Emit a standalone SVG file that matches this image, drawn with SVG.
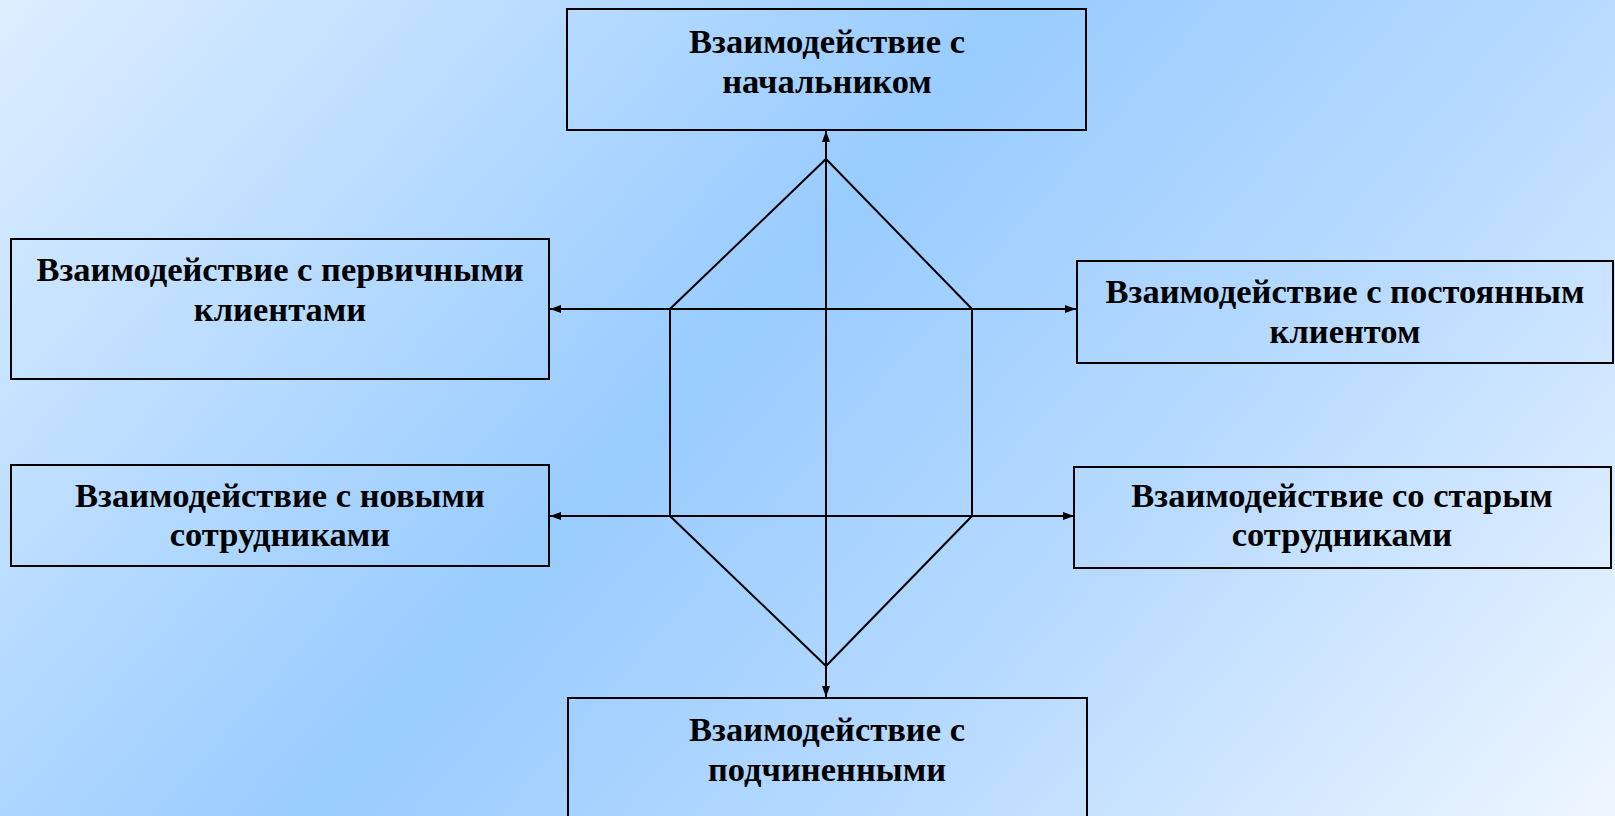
<svg xmlns="http://www.w3.org/2000/svg" width="1615" height="816" viewBox="0 0 1615 816">
<defs>
<linearGradient id="bg" gradientUnits="userSpaceOnUse" x1="0" y1="0" x2="1311" y2="1158">
<stop offset="0" stop-color="#ddeeff"/>
<stop offset="0.44" stop-color="#99ccff"/>
<stop offset="0.7" stop-color="#b9dbff"/>
<stop offset="1" stop-color="#eef6ff"/>
</linearGradient>
<marker id="arr" markerUnits="userSpaceOnUse" markerWidth="12" markerHeight="10" refX="11" refY="5" orient="auto-start-reverse">
<path d="M0,1 L11,5 L0,9 z" fill="#000"/>
</marker>
<style>
.box{fill:none;stroke:#000;stroke-width:2}
.lbl{font-family:"Liberation Serif","Times New Roman",serif;font-weight:bold;font-size:34.5px;fill:#000;text-anchor:middle}
.ln{fill:none;stroke:#000;stroke-width:2}
</style>
</defs>
<rect x="0" y="0" width="1615" height="816" fill="url(#bg)"/>
<g id="connectors">
<polygon class="ln" points="826,159 972,309 972,516 826,666 670,516 670,309"/>
<line class="ln" x1="826" y1="131" x2="826" y2="697" marker-start="url(#arr)" marker-end="url(#arr)"/>
<line class="ln" x1="550" y1="309" x2="1076" y2="309" marker-start="url(#arr)" marker-end="url(#arr)"/>
<line class="ln" x1="550" y1="516" x2="1074" y2="516" marker-start="url(#arr)" marker-end="url(#arr)"/>
</g>
<g id="node-top">
<rect class="box" x="567" y="9" width="519" height="121"/>
<text class="lbl" x="827" y="53">Взаимодействие с</text>
<text class="lbl" x="827" y="93">начальником</text>
</g>
<g id="node-left1">
<rect class="box" x="11" y="239" width="538" height="140"/>
<text class="lbl" x="280" y="281">Взаимодействие с первичными</text>
<text class="lbl" x="280" y="321">клиентами</text>
</g>
<g id="node-right1">
<rect class="box" x="1077" y="261" width="536" height="102"/>
<text class="lbl" x="1345" y="303">Взаимодействие с постоянным</text>
<text class="lbl" x="1345" y="343">клиентом</text>
</g>
<g id="node-left2">
<rect class="box" x="11" y="465" width="538" height="101"/>
<text class="lbl" x="280" y="507">Взаимодействие с новыми</text>
<text class="lbl" x="280" y="546">сотрудниками</text>
</g>
<g id="node-right2">
<rect class="box" x="1074" y="467" width="537" height="101"/>
<text class="lbl" x="1342" y="507">Взаимодействие со старым</text>
<text class="lbl" x="1342" y="546">сотрудниками</text>
</g>
<g id="node-bottom">
<rect class="box" x="568" y="698" width="519" height="124"/>
<text class="lbl" x="827" y="741">Взаимодействие с</text>
<text class="lbl" x="827" y="781">подчиненными</text>
</g>
</svg>
